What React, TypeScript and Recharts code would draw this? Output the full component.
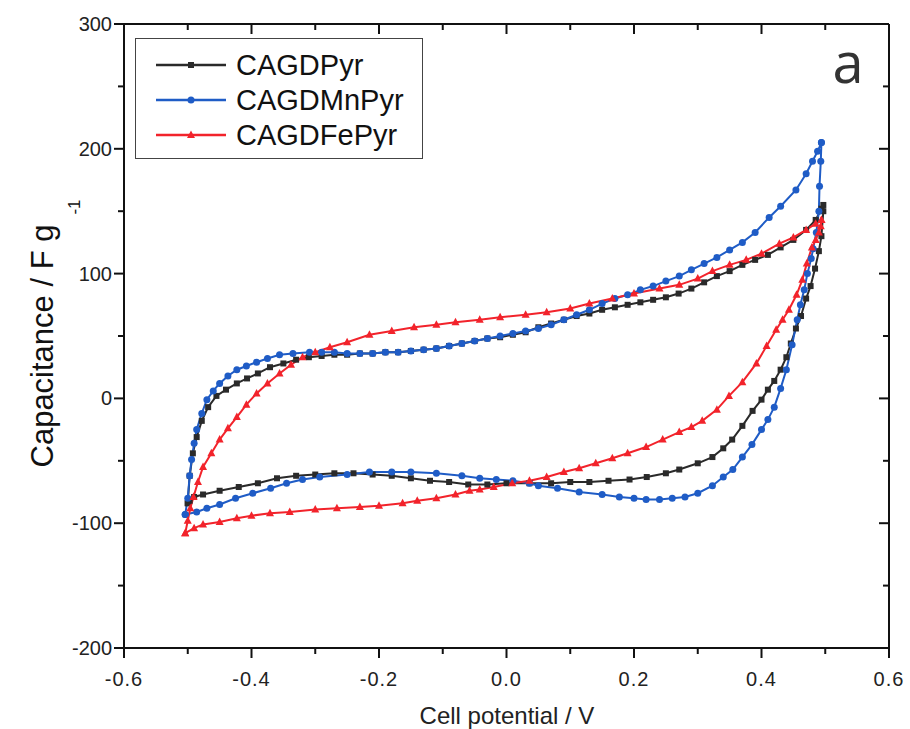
import React from "react";
import { LineChart, Line, XAxis, YAxis, Legend } from "recharts";

// potential (V), capacitance (F/g)
const pyrForward: [number, number][] = [
  [-0.5, -84], [-0.497, -62], [-0.492, -44], [-0.486, -31], [-0.478, -18], [-0.468, -7],
  [-0.455, 2], [-0.44, 7], [-0.423, 12], [-0.407, 16], [-0.39, 20], [-0.371, 25],
  [-0.35, 28], [-0.33, 31], [-0.31, 33], [-0.29, 34], [-0.27, 35], [-0.25, 35],
  [-0.23, 36], [-0.21, 36], [-0.19, 37], [-0.17, 37], [-0.15, 38], [-0.13, 39],
  [-0.11, 40], [-0.09, 42], [-0.07, 44], [-0.05, 46], [-0.03, 48], [-0.01, 49],
  [0.01, 51], [0.03, 53], [0.05, 57], [0.07, 60], [0.09, 63], [0.11, 66],
  [0.13, 68], [0.15, 71], [0.17, 73], [0.19, 75], [0.21, 77], [0.23, 79],
  [0.25, 81], [0.27, 84], [0.29, 88], [0.31, 93], [0.33, 98], [0.35, 102],
  [0.37, 107], [0.39, 111], [0.41, 115], [0.43, 121], [0.45, 127], [0.47, 135],
  [0.485, 143], [0.494, 152], [0.497, 155],
];
const pyrReverse: [number, number][] = [
  [0.497, 150], [0.494, 130], [0.49, 118], [0.484, 104], [0.477, 90], [0.47, 80],
  [0.462, 66], [0.454, 56], [0.446, 44], [0.439, 33], [0.43, 23], [0.42, 14],
  [0.41, 7], [0.4, -1], [0.386, -10], [0.37, -22], [0.354, -33], [0.34, -40],
  [0.323, -47], [0.3, -52], [0.271, -57], [0.25, -60], [0.22, -63], [0.193, -65],
  [0.16, -66], [0.13, -67], [0.1, -67], [0.07, -68], [0.036, -68], [0.0, -68],
  [-0.03, -69], [-0.06, -69], [-0.09, -67], [-0.12, -66], [-0.15, -64], [-0.18, -62],
  [-0.21, -61], [-0.24, -60], [-0.27, -60], [-0.3, -61], [-0.33, -62], [-0.36, -64],
  [-0.39, -68], [-0.42, -71], [-0.45, -74], [-0.476, -77], [-0.49, -79], [-0.497, -82],
  [-0.5, -84],
];

const mnForward: [number, number][] = [
  [-0.504, -93], [-0.5, -80], [-0.497, -62], [-0.494, -49], [-0.49, -36], [-0.486, -25],
  [-0.478, -12], [-0.47, -1], [-0.46, 6], [-0.45, 12], [-0.437, 18], [-0.423, 23],
  [-0.408, 26], [-0.392, 29], [-0.375, 32], [-0.356, 35], [-0.335, 36], [-0.309, 37],
  [-0.29, 37], [-0.27, 37], [-0.25, 36], [-0.23, 36], [-0.21, 36], [-0.19, 37],
  [-0.17, 37], [-0.15, 38], [-0.13, 39], [-0.11, 40], [-0.09, 42], [-0.07, 44],
  [-0.05, 46], [-0.03, 48], [-0.01, 50], [0.01, 52], [0.03, 54], [0.05, 56],
  [0.07, 59], [0.09, 63], [0.11, 67], [0.13, 71], [0.15, 76], [0.17, 80],
  [0.19, 83], [0.21, 87], [0.23, 90], [0.25, 94], [0.271, 98], [0.29, 103],
  [0.31, 108], [0.33, 113], [0.35, 119], [0.37, 125], [0.39, 133], [0.412, 145],
  [0.43, 154], [0.454, 167], [0.47, 180], [0.48, 190], [0.488, 198], [0.494, 205],
];
const mnReverse: [number, number][] = [
  [0.494, 205], [0.493, 190], [0.491, 170], [0.49, 150], [0.486, 133], [0.481, 120],
  [0.478, 112], [0.472, 100], [0.467, 87], [0.461, 75], [0.456, 63], [0.448, 43],
  [0.439, 23], [0.43, 8], [0.42, -7], [0.41, -17], [0.4, -25], [0.385, -37],
  [0.37, -47], [0.355, -57], [0.34, -63], [0.323, -70], [0.3, -76], [0.28, -79],
  [0.26, -80], [0.24, -81], [0.219, -81], [0.2, -80], [0.177, -79], [0.15, -77],
  [0.114, -75], [0.08, -72], [0.05, -70], [0.036, -68], [0.01, -66], [-0.016, -65],
  [-0.042, -64], [-0.07, -62], [-0.11, -60], [-0.15, -59], [-0.18, -59], [-0.215, -59],
  [-0.25, -61], [-0.293, -63], [-0.32, -65], [-0.345, -68], [-0.37, -72], [-0.398, -76],
  [-0.425, -80], [-0.45, -85], [-0.47, -88], [-0.486, -91], [-0.504, -93],
];

const feForward: [number, number][] = [
  [-0.504, -108], [-0.5, -98], [-0.496, -88], [-0.491, -79], [-0.484, -67], [-0.476, -55],
  [-0.463, -44], [-0.45, -33], [-0.437, -24], [-0.423, -15], [-0.408, -5], [-0.392, 4],
  [-0.375, 12], [-0.356, 20], [-0.338, 27], [-0.32, 33], [-0.3, 37], [-0.277, 41],
  [-0.25, 45], [-0.215, 51], [-0.18, 54], [-0.145, 57], [-0.11, 59], [-0.08, 61],
  [-0.042, 63], [-0.01, 65], [0.03, 67], [0.063, 69], [0.1, 72], [0.13, 76],
  [0.166, 80], [0.2, 84], [0.24, 88], [0.271, 91], [0.3, 96], [0.323, 102],
  [0.35, 107], [0.376, 111], [0.4, 116], [0.428, 124], [0.45, 129], [0.47, 135],
  [0.485, 140], [0.494, 143],
];
const feReverse: [number, number][] = [
  [0.494, 143], [0.493, 138], [0.49, 133], [0.485, 127], [0.479, 121], [0.471, 108],
  [0.464, 95], [0.455, 83], [0.443, 71], [0.433, 63], [0.423, 55], [0.408, 42],
  [0.392, 28], [0.37, 13], [0.349, 2], [0.33, -9], [0.307, -18], [0.29, -23],
  [0.271, -27], [0.245, -33], [0.219, -39], [0.19, -44], [0.166, -48], [0.14, -52],
  [0.114, -56], [0.09, -59], [0.063, -63], [0.036, -66], [0.009, -68], [-0.02, -71],
  [-0.042, -73], [-0.058, -74], [-0.08, -77], [-0.11, -80], [-0.14, -82], [-0.163, -84],
  [-0.2, -86], [-0.23, -87], [-0.266, -88], [-0.3, -89], [-0.34, -91], [-0.371, -92],
  [-0.4, -94], [-0.423, -96], [-0.45, -99], [-0.476, -101], [-0.49, -104], [-0.504, -108],
];

const xTicks = [-0.6, -0.5, -0.4, -0.3, -0.2, -0.1, 0, 0.1, 0.2, 0.3, 0.4, 0.5, 0.6];
const yTicks = [-200, -150, -100, -50, 0, 50, 100, 150, 200, 250, 300];

type Shape = "square" | "circle" | "triangle";

const loop = (fwd: [number, number][], rev: [number, number][]) =>
  [...fwd, ...rev].map(([x, y]) => ({ x, y }));

const SERIES = [
  { name: "CAGDPyr", color: "#2a2a2a", shape: "square" as Shape, data: loop(pyrForward, pyrReverse) },
  { name: "CAGDMnPyr", color: "#1f5cc6", shape: "circle" as Shape, data: loop(mnForward, mnReverse) },
  { name: "CAGDFePyr", color: "#f2232b", shape: "triangle" as Shape, data: loop(feForward, feReverse) },
];

const AXIS = "#111";
const FONT = "'Liberation Sans', Arial, sans-serif";

function Marker({ cx, cy, shape, color }: { cx: number; cy: number; shape: Shape; color: string }) {
  if (shape === "square") return <rect x={cx - 3} y={cy - 3} width={6} height={6} fill={color} />;
  if (shape === "circle") return <circle cx={cx} cy={cy} r={3.5} fill={color} />;
  return <path d={`M${cx},${cy - 4.5} L${cx + 4},${cy + 3} L${cx - 4},${cy + 3} Z`} fill={color} />;
}

const isMajorX = (v: number) => Math.round(v * 10) % 2 === 0;
const isMajorY = (v: number) => v % 100 === 0;

function BottomTick(props: any) {
  const { x, y, payload } = props;
  const v = payload.value as number;
  const major = isMajorX(v);
  return (
    <g>
      <line x1={x} x2={x} y1={y} y2={y + (major ? 10 : 6)} stroke={AXIS} strokeWidth={2} />
      {major && (
        <text x={x} y={y + 38} textAnchor="middle" fontSize={20} letterSpacing={1} fill="#222" fontFamily={FONT}>
          {v.toFixed(1)}
        </text>
      )}
    </g>
  );
}

function TopTick(props: any) {
  const { x, y, payload } = props;
  const major = isMajorX(payload.value);
  return <line x1={x} x2={x} y1={y} y2={y + (major ? 10 : 6)} stroke={AXIS} strokeWidth={2} />;
}

function LeftTick(props: any) {
  const { x, y, payload } = props;
  const v = payload.value as number;
  const major = isMajorY(v);
  return (
    <g>
      <line x1={x - (major ? 10 : 6)} x2={x} y1={y} y2={y} stroke={AXIS} strokeWidth={2} />
      {major && (
        <text x={x - 12} y={y + 7} textAnchor="end" fontSize={20} fill="#222" fontFamily={FONT}>
          {v}
        </text>
      )}
    </g>
  );
}

function RightTick(props: any) {
  const { x, y, payload } = props;
  const major = isMajorY(payload.value);
  return <line x1={x - (major ? 10 : 6)} x2={x} y1={y} y2={y} stroke={AXIS} strokeWidth={2} />;
}

function LegendBox() {
  return (
    <div
      style={{
        border: "1.5px solid #444",
        background: "#fff",
        padding: "8px 0 8px 20px",
        boxSizing: "border-box",
        width: 288,
        height: 121,
      }}
    >
      {SERIES.map((s) => (
        <div key={s.name} style={{ display: "flex", alignItems: "center", height: 35 }}>
          <svg width={70} height={16} style={{ marginRight: 10 }}>
            <line x1={0} x2={70} y1={8} y2={8} stroke={s.color} strokeWidth={2.5} />
            <Marker cx={35} cy={8} shape={s.shape} color={s.color} />
          </svg>
          <span style={{ fontFamily: FONT, fontSize: 29, color: "#111", lineHeight: "30px" }}>{s.name}</span>
        </div>
      ))}
    </div>
  );
}

export default function App() {
  return (
    <div style={{ position: "absolute", left: 0, top: 0, width: 910, height: 729, background: "#fff" }}>
      <LineChart width={910} height={729} margin={{ top: 14, right: 11, left: 0, bottom: 0 }}>
        <XAxis
          xAxisId="bottom"
          dataKey="x"
          type="number"
          domain={[-0.6, 0.6]}
          ticks={xTicks}
          interval={0}
          height={81}
          tickSize={0}
          tickMargin={0}
          tickLine={false}
          axisLine={{ stroke: AXIS, strokeWidth: 2 }}
          tick={<BottomTick />}
          allowDataOverflow
        />
        <XAxis
          xAxisId="top"
          orientation="top"
          dataKey="x"
          type="number"
          domain={[-0.6, 0.6]}
          ticks={xTicks}
          interval={0}
          height={10}
          tickSize={0}
          tickMargin={0}
          tickLine={false}
          axisLine={{ stroke: AXIS, strokeWidth: 2 }}
          tick={<TopTick />}
          allowDataOverflow
        />
        <YAxis
          yAxisId="left"
          type="number"
          domain={[-200, 300]}
          ticks={yTicks}
          interval={0}
          width={124}
          tickSize={0}
          tickMargin={0}
          tickLine={false}
          axisLine={{ stroke: AXIS, strokeWidth: 2 }}
          tick={<LeftTick />}
          allowDataOverflow
        />
        <YAxis
          yAxisId="right"
          orientation="right"
          type="number"
          domain={[-200, 300]}
          ticks={yTicks}
          interval={0}
          width={10}
          tickSize={0}
          tickMargin={0}
          tickLine={false}
          axisLine={{ stroke: AXIS, strokeWidth: 2 }}
          tick={<RightTick />}
          allowDataOverflow
        />
        <Legend
          layout="vertical"
          align="center"
          verticalAlign="middle"
          content={() => <LegendBox />}
          wrapperStyle={{ left: 135, top: 38, width: 288, height: 121 }}
        />
        {SERIES.map((s) => (
          <Line
            key={s.name}
            xAxisId="bottom"
            yAxisId="left"
            data={s.data}
            dataKey="y"
            name={s.name}
            type="linear"
            stroke={s.color}
            strokeWidth={2}
            isAnimationActive={false}
            dot={(p: any) => <Marker key={`${s.name}-${p.index}`} cx={p.cx} cy={p.cy} shape={s.shape} color={s.color} />}
            activeDot={false}
          />
        ))}
      </LineChart>
      <svg
        width={910}
        height={729}
        style={{ position: "absolute", left: 0, top: 0, pointerEvents: "none" }}
      >
        <text
          transform="translate(53, 346) rotate(-90)"
          textAnchor="middle"
          fontSize={31}
          fill="#111"
          fontFamily={FONT}
        >
          Capacitance / F g
        </text>
        <text transform="translate(80, 207) rotate(-90)" textAnchor="middle" fontSize={17} fill="#111" fontFamily={FONT}>
          -1
        </text>
        <text x={507} y={724} textAnchor="middle" fontSize={24} fill="#222" fontFamily={FONT}>
          Cell potential / V
        </text>
        <text x={848} y={83} textAnchor="middle" fontSize={56} fill="#333" fontFamily="'Open Sans', sans-serif">
          a
        </text>
      </svg>
    </div>
  );
}
